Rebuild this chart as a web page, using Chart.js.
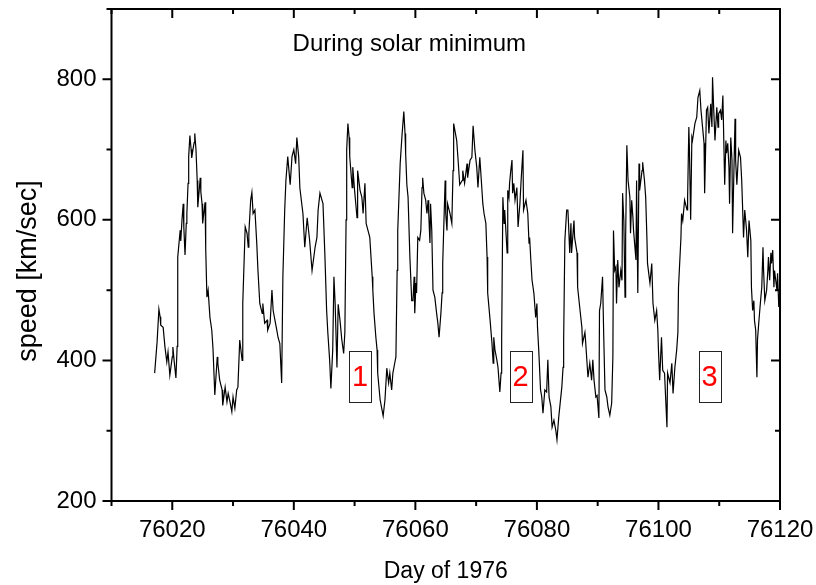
<!DOCTYPE html>
<html>
<head>
<meta charset="utf-8">
<script src="https://cdn.jsdelivr.net/npm/chart.js@4/dist/chart.umd.min.js"></script>
<style>
  html, body { margin: 0; padding: 0; background: #fff; }
  canvas { display: block; }
</style>
</head>
<body>
<canvas id="chart" width="816" height="585"></canvas>
<script>
const days = [
  76017.1, 76017.5, 76017.8, 76018.0, 76018.1, 76018.5, 76018.8, 76019.1, 76019.3, 76019.6,
  76020.0, 76020.1, 76020.3, 76020.6, 76020.8, 76020.9, 76021.3, 76021.4, 76021.6, 76021.8,
  76021.9, 76022.1, 76022.3, 76022.4, 76022.6, 76022.7, 76022.9, 76023.1, 76023.2, 76023.4,
  76023.6, 76023.7, 76023.9, 76024.1, 76024.2, 76024.6, 76024.7, 76024.9, 76025.0, 76025.4,
  76025.5, 76025.7, 76025.9, 76026.2, 76026.5, 76026.7, 76027.0, 76027.4, 76027.5, 76027.8,
  76028.2, 76028.3, 76028.7, 76029.0, 76029.2, 76029.5, 76029.8, 76030.0, 76030.3, 76030.6,
  76030.8, 76031.1, 76031.5, 76031.6, 76032.0, 76032.3, 76032.5, 76032.6, 76032.9, 76033.1,
  76033.3, 76033.6, 76033.9, 76034.1, 76034.4, 76034.8, 76034.9, 76035.2, 76035.6, 76035.7,
  76036.1, 76036.4, 76036.6, 76036.9, 76037.2, 76037.4, 76037.7, 76038.0, 76038.2, 76038.5,
  76038.7, 76039.0, 76039.4, 76039.7, 76040.0, 76040.3, 76040.5, 76040.8, 76041.0, 76041.5,
  76041.8, 76042.2, 76042.6, 76043.0, 76043.5, 76043.8, 76044.0, 76044.3, 76044.8, 76045.1,
  76045.4, 76045.6, 76045.9, 76046.1, 76046.4, 76046.6, 76046.8, 76047.1, 76047.3, 76047.6,
  76047.9, 76048.2, 76048.4, 76048.6, 76048.7, 76048.9, 76049.1, 76049.2, 76049.6, 76049.7,
  76050.0, 76050.4, 76050.5, 76050.9, 76051.2, 76051.4, 76051.7, 76051.9, 76052.2, 76052.5,
  76052.9, 76053.0, 76053.2, 76053.5, 76053.7, 76053.8, 76054.2, 76054.7, 76055.0, 76055.3,
  76055.6, 76055.8, 76056.1, 76056.3, 76056.6, 76056.8, 76057.0, 76057.1, 76057.5, 76057.8,
  76058.1, 76058.3, 76058.4, 76058.6, 76058.8, 76059.1, 76059.4, 76059.6, 76059.8, 76059.9,
  76060.1, 76060.2, 76060.4, 76060.7, 76060.9, 76061.1, 76061.2, 76061.4, 76061.7, 76061.9,
  76062.1, 76062.2, 76062.4, 76062.5, 76062.7, 76062.9, 76063.2, 76063.5, 76063.7, 76063.9,
  76064.2, 76064.4, 76064.5, 76064.9, 76065.0, 76065.2, 76065.3, 76065.7, 76066.0, 76066.2,
  76066.3, 76066.8, 76067.0, 76067.3, 76067.7, 76067.8, 76068.1, 76068.5, 76068.6, 76069.0,
  76069.3, 76069.5, 76069.8, 76070.1, 76070.3, 76070.6, 76070.9, 76071.1, 76071.3, 76071.6,
  76071.8, 76071.9, 76072.3, 76072.6, 76072.8, 76072.9, 76073.1, 76073.4, 76073.6, 76073.9,
  76074.1, 76074.2, 76074.4, 76074.6, 76074.7, 76075.1, 76075.2, 76075.4, 76075.5, 76075.7,
  76075.9, 76076.0, 76076.2, 76076.4, 76076.7, 76076.9, 76077.2, 76077.4, 76077.7, 76077.8,
  76078.2, 76078.5, 76078.7, 76078.8, 76079.0, 76079.2, 76079.5, 76079.8, 76080.0, 76080.1,
  76080.3, 76080.6, 76080.8, 76081.0, 76081.3, 76081.6, 76081.8, 76082.0, 76082.3, 76082.5,
  76082.8, 76083.1, 76083.3, 76083.6, 76084.1, 76084.3, 76084.4, 76084.6, 76084.9, 76085.1,
  76085.2, 76085.4, 76085.6, 76085.7, 76086.1, 76086.2, 76086.6, 76086.7, 76087.1, 76087.4,
  76087.5, 76087.9, 76088.0, 76088.4, 76088.7, 76089.0, 76089.2, 76089.4, 76089.7, 76089.9,
  76090.2, 76090.3, 76090.5, 76090.8, 76091.0, 76091.2, 76091.5, 76091.7, 76092.0, 76092.3,
  76092.5, 76092.6, 76092.8, 76093.0, 76093.1, 76093.3, 76093.5, 76093.8, 76094.0, 76094.1,
  76094.3, 76094.5, 76094.6, 76094.8, 76095.0, 76095.3, 76095.4, 76095.6, 76095.8, 76095.9,
  76096.3, 76096.4, 76096.6, 76096.8, 76096.9, 76097.3, 76097.4, 76097.7, 76097.9, 76098.1,
  76098.2, 76098.6, 76098.9, 76099.1, 76099.4, 76099.7, 76099.9, 76100.0, 76100.2, 76100.5,
  76100.7, 76101.0, 76101.4, 76101.5, 76101.9, 76102.2, 76102.4, 76102.7, 76103.0, 76103.2,
  76103.3, 76103.7, 76103.8, 76104.0, 76104.2, 76104.3, 76104.7, 76104.8, 76105.0, 76105.1,
  76105.3, 76105.5, 76105.6, 76106.0, 76106.3, 76106.5, 76106.8, 76107.0, 76107.3, 76107.5,
  76107.6, 76107.9, 76108.1, 76108.3, 76108.6, 76108.8, 76108.9, 76109.1, 76109.3, 76109.6,
  76109.8, 76109.9, 76110.2, 76110.4, 76110.6, 76110.9, 76111.1, 76111.2, 76111.4, 76111.6,
  76111.7, 76111.9, 76112.1, 76112.2, 76112.6, 76112.7, 76112.9, 76113.2, 76113.5, 76113.7,
  76113.9, 76114.0, 76114.2, 76114.5, 76114.7, 76114.9, 76115.2, 76115.3, 76115.5, 76115.7,
  76115.8, 76116.0, 76116.2, 76116.3, 76116.5, 76116.8, 76117.0, 76117.2, 76117.3, 76117.5,
  76117.8, 76118.0, 76118.1, 76118.3, 76118.5, 76118.6, 76118.8, 76119.0, 76119.1, 76119.5,
  76119.6, 76119.8, 76120.0
];

const speed = [
  382, 426, 473, 462, 450, 447, 419, 398, 412, 379,
  405, 419, 400, 375, 420, 547, 585, 570, 600, 623,
  590, 550, 595, 609, 652, 690, 720, 700, 688, 700,
  710, 723, 700, 656, 618, 660, 640, 623, 595, 625,
  560, 490, 500, 461, 443, 417, 351, 405, 396, 372,
  358, 336, 362, 341, 353, 341, 327, 348, 332, 358,
  362, 429, 400, 481, 590, 581, 561, 581, 628, 639,
  609, 614, 567, 528, 481, 467, 481, 453, 457, 443,
  453, 500, 471, 457, 443, 433, 424, 368, 519, 614,
  656, 690, 650, 690, 700, 680, 717, 690, 645, 609,
  561, 603, 571, 528, 561, 575, 614, 638, 623, 553,
  471, 439, 400, 360, 415, 519, 481, 390, 480, 457,
  429, 410, 440, 600, 700, 737, 717, 690, 646, 675,
  642, 603, 670, 642, 632, 609, 652, 595, 585, 575,
  519, 500, 467, 433, 415, 382, 344, 321, 344, 389,
  368, 382, 358, 382, 396, 405, 528, 585, 680, 720,
  754, 723, 695, 650, 632, 547, 485, 485, 519, 467,
  510, 496, 575, 571, 585, 646, 660, 638, 628, 609,
  628, 609, 567, 623, 585, 500, 490, 467, 453, 433,
  467, 496, 538, 656, 609, 585, 623, 609, 595, 670,
  737, 713, 689, 650, 656, 670, 652, 680, 660, 685,
  689, 734, 699, 675, 646, 689, 650, 623, 609, 595,
  547, 496, 457, 425, 396, 433, 415, 401, 390, 355,
  382, 430, 632, 595, 614, 553, 642, 632, 652, 670,
  685, 638, 652, 628, 646, 590, 623, 656, 699, 614,
  628, 609, 567, 575, 543, 514, 496, 461, 481, 447,
  415, 358, 348, 325, 358, 355, 401, 348, 334, 305,
  315, 301, 287, 320, 362, 390, 429, 571, 614, 614,
  595, 553, 595, 553, 599, 575, 553, 504, 471, 447,
  424, 440, 429, 376, 396, 372, 401, 372, 348, 350,
  318, 471, 481, 519, 433, 358, 348, 334, 322, 339,
  405, 585, 528, 533, 481, 543, 504, 528, 514, 638,
  599, 490, 575, 706, 656, 632, 581, 628, 603, 585,
  543, 656, 496, 680, 642, 670, 682, 656, 632, 575,
  538, 510, 538, 481, 457, 471, 443, 415, 372, 433,
  386, 382, 305, 382, 368, 396, 353, 390, 415, 440,
  504, 575, 609, 599, 618, 628, 614, 632, 732, 699,
  600, 717, 713, 737, 746, 774, 784, 756, 728, 709,
  638, 756, 760, 723, 765, 732, 803, 756, 713, 760,
  732, 751, 756, 742, 777, 650, 713, 695, 709, 675,
  623, 717, 685, 581, 744, 685, 650, 699, 689, 656,
  603, 575, 614, 585, 547, 599, 571, 504, 471, 485,
  457, 443, 376, 430, 453, 485, 504, 561, 528, 485,
  500, 528, 547, 514, 553, 538, 557, 504, 528, 500,
  524, 476, 504
];

// axis ranges and tick values
const xMin = 76010, xMax = 76120, xMinorStep = 10;
const yMin = 200, yMax = 900, yMinorStep = 100;
const xTicks = [76020, 76040, 76060, 76080, 76100, 76120];
const yTicks = [200, 400, 600, 800];

const chartTitle = "During solar minimum";
const xTitle = "Day of 1976";
const yTitle = "speed [km/sec]";

// boxed interval markers
const markLabels = ["1", "2", "3"];
const markDays = [76050.9, 76077.3, 76108.4];
const markSpeeds = [377, 377, 377];

const FONT = "'Liberation Sans', Arial, Helvetica, sans-serif";

const frame = {
  id: "frame",
  afterDraw(chart) {
    const { ctx, chartArea: a, scales: { x, y } } = chart;
    ctx.save();
    ctx.strokeStyle = "#000";
    ctx.lineWidth = 2;
    ctx.strokeRect(a.left, a.top, a.right - a.left, a.bottom - a.top);

    // major ticks 9px, minor 5px; outward on left/bottom, inward on top/right
    ctx.beginPath();
    for (let v = xMin; v <= xMax; v += xMinorStep) {
      const px = x.getPixelForValue(v);
      const len = xTicks.includes(v) ? 9 : 5;
      ctx.moveTo(px, a.bottom); ctx.lineTo(px, a.bottom + len);
      ctx.moveTo(px, a.top); ctx.lineTo(px, a.top + len);
    }
    for (let v = yMin; v <= yMax; v += yMinorStep) {
      const py = y.getPixelForValue(v);
      const len = yTicks.includes(v) ? 9 : 5;
      ctx.moveTo(a.left, py); ctx.lineTo(a.left - len, py);
      ctx.moveTo(a.right, py); ctx.lineTo(a.right - len, py);
    }
    ctx.stroke();

    ctx.fillStyle = "#000";
    ctx.font = "24px " + FONT;
    ctx.textAlign = "center";
    ctx.textBaseline = "alphabetic";
    ctx.fillText(chartTitle, x.getPixelForValue(76059), y.getPixelForValue(840));

    ctx.save();
    ctx.translate(29, 271);
    ctx.rotate(-Math.PI / 2);
    ctx.font = "27px " + FONT;
    ctx.textBaseline = "middle";
    ctx.fillText(yTitle, 0, 0);
    ctx.restore();

    markLabels.forEach((t, i) => {
      const cx = x.getPixelForValue(markDays[i]);
      const cy = y.getPixelForValue(markSpeeds[i]);
      ctx.lineWidth = 1;
      ctx.strokeStyle = "#222";
      ctx.strokeRect(Math.round(cx - 11) + 0.5, Math.round(cy - 25.5) + 0.5, 22, 51);
      ctx.fillStyle = "#ff0000";
      ctx.font = "29px " + FONT;
      ctx.textAlign = "center";
      ctx.textBaseline = "middle";
      ctx.fillText(t, cx, cy + 1);
    });
    ctx.restore();
  }
};

const points = days.map((d, i) => ({ x: d, y: speed[i] }));

new Chart(document.getElementById("chart"), {
  type: "line",
  data: {
    datasets: [{
      data: points,
      borderColor: "#000",
      borderWidth: 1.2,
      pointRadius: 0,
      tension: 0,
      fill: false
    }]
  },
  options: {
    responsive: false,
    animation: false,
    layout: { padding: { top: 9, right: 36, left: 0, bottom: 0 } },
    plugins: { legend: { display: false }, tooltip: { enabled: false } },
    scales: {
      x: {
        type: "linear",
        min: xMin,
        max: xMax,
        afterBuildTicks: (s) => { s.ticks = xTicks.map((v) => ({ value: v })); },
        afterFit: (s) => { s.height = 84; s.paddingLeft = 0; s.paddingRight = 0; },
        grid: { display: false, drawTicks: false, tickLength: 0 },
        border: { display: false },
        ticks: {
          autoSkip: false,
          maxRotation: 0,
          padding: 15,
          color: "#000",
          font: { family: FONT, size: 24 },
          callback: (v) => String(v)
        },
        title: {
          display: true,
          text: xTitle,
          color: "#000",
          font: { family: FONT, size: 23 },
          padding: { top: 0, bottom: 0 }
        }
      },
      y: {
        min: yMin,
        max: yMax,
        afterBuildTicks: (s) => { s.ticks = yTicks.map((v) => ({ value: v })); },
        afterFit: (s) => { s.width = 111.5; s.paddingTop = 0; s.paddingBottom = 0; },
        grid: { display: false, drawTicks: false, tickLength: 0 },
        border: { display: false },
        ticks: {
          autoSkip: false,
          padding: 15,
          color: "#000",
          font: { family: FONT, size: 24 },
          callback: (v) => String(v)
        }
      }
    }
  },
  plugins: [frame]
});
</script>
</body>
</html>
